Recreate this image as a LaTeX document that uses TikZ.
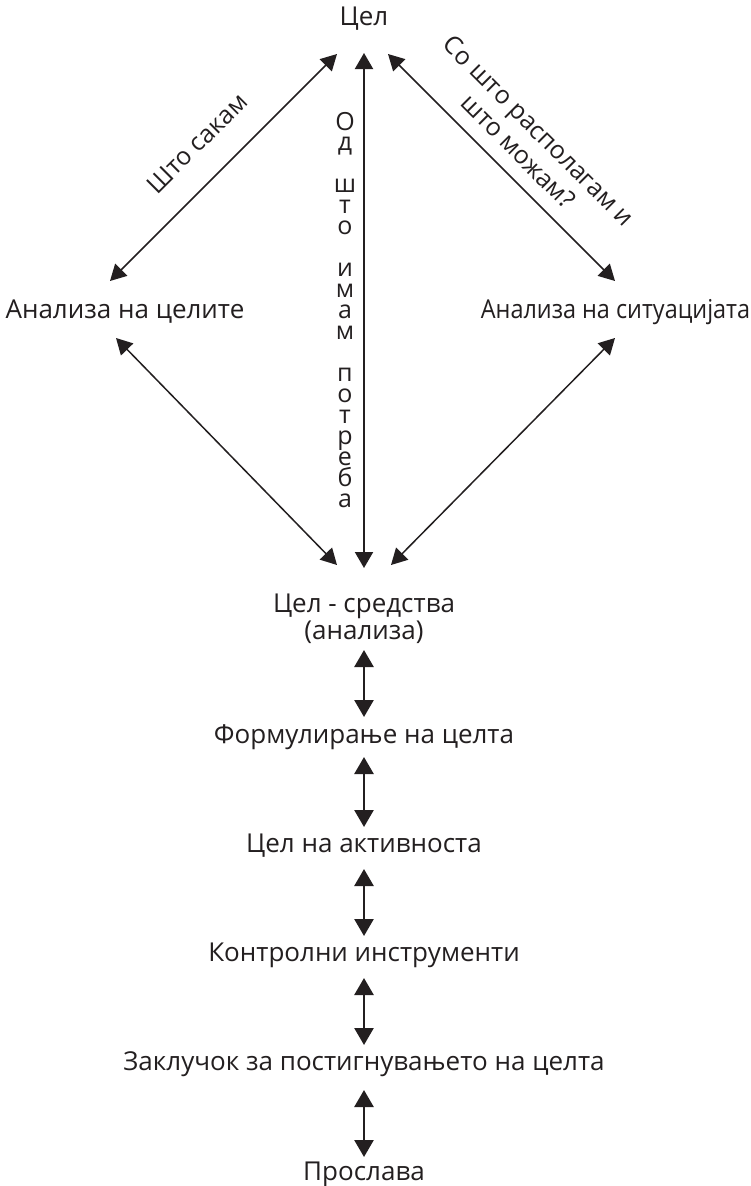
\documentclass[tikz,border=0pt]{standalone}
\usepackage{fontspec}
\setmainfont{Open Sans}
\usetikzlibrary{arrows.meta}
\definecolor{ink}{HTML}{231F20}
\tikzset{
  lbl/.style={font=\fontsize{26}{30}\selectfont, text=ink, inner sep=0pt, anchor=base},
  vlet/.style={font=\fontsize{25}{30}\selectfont, text=ink, inner sep=0pt, anchor=base},
  rlbl/.style={font=\fontsize{25}{29}\selectfont, text=ink, inner sep=0pt, align=center},
  diag/.style={draw=ink, line width=1.5pt, {Triangle[length=16pt,width=17pt]}-{Triangle[length=16pt,width=17pt]}, fill=ink},
  vlong/.style={draw=ink, line width=2pt, {Triangle[length=16pt,width=18pt]}-{Triangle[length=16pt,width=18pt]}},
  vshort/.style={draw=ink, line width=2.6pt, {Triangle[length=17pt,width=19pt]}-{Triangle[length=17pt,width=19pt]}}
}
\begin{document}
\begin{tikzpicture}[x=1pt,y=1pt]
\useasboundingbox (0,0) rectangle (750,-1186);
\fill[white] (0,0) rectangle (750,-1186);

% nodes
\node[lbl] (top) at (364,-25) {Цел};
\node[lbl] (left) at (125,-318) {Анализа на целите};
\node[lbl] (right) at (615.5,-318) {\scalebox{0.9}[1]{Анализа на ситуацијата}};
\node[lbl] (cs1) at (364,-612) {Цел - средства};
\node[lbl] (cs2) at (364,-639) {(анализа)};
\node[lbl] (form) at (364,-743) {Формулирање на целта};
\node[lbl] (act) at (364,-852) {Цел на активноста};
\node[lbl] (ctrl) at (364,-961) {Контролни инструменти};
\node[lbl] (concl) at (364,-1070) {Заклучок за постигнувањето на целта};
\node[lbl] (cel) at (364,-1180) {Прослава};

% rotated labels
\node[rlbl, rotate=45] (want) at (197,-143) {Што сакам};
\node[rlbl, rotate=-45] (have) at (529,-141) {Со што располагам и\\што можам?};

% vertical stacked text
\foreach \i/\ch in {0/О,1/д,3/ш,4/т,5/о,7/и,8/м,9/а,10/м,12/п,13/о,14/т,15/р,16/е,17/б,18/а}
  \node[vlet] (v\i) at (345,-130-\i*20.95) {\ch};

% diagonal connectors
\draw[diag] ([shift={(-27pt,-29pt)}]top.base) -- ([shift={(-15pt,37pt)}]left.base);
\draw[diag] ([shift={(24pt,-29pt)}]top.base) -- ([shift={(-0.5pt,37pt)}]right.base);
\draw[diag] ([shift={(-9pt,-20pt)}]left.base) -- ([shift={(-27pt,47pt)}]cs1.base);
\draw[diag] ([shift={(-0.5pt,-20pt)}]right.base) -- ([shift={(27pt,47pt)}]cs1.base);
\draw[vlong] ([yshift=-28pt]top.base) -- ([yshift=44pt]cs1.base);

% short vertical connectors
\draw[vshort] ([yshift=-11pt]cs2.base) -- ([yshift=26pt]form.base);
\draw[vshort] ([yshift=-14pt]form.base) -- ([yshift=25pt]act.base);
\draw[vshort] ([yshift=-17pt]act.base) -- ([yshift=25pt]ctrl.base);
\draw[vshort] ([yshift=-17pt]ctrl.base) -- ([yshift=25pt]concl.base);
\draw[vshort] ([yshift=-20pt]concl.base) -- ([yshift=23pt]cel.base);
\end{tikzpicture}
\end{document}
